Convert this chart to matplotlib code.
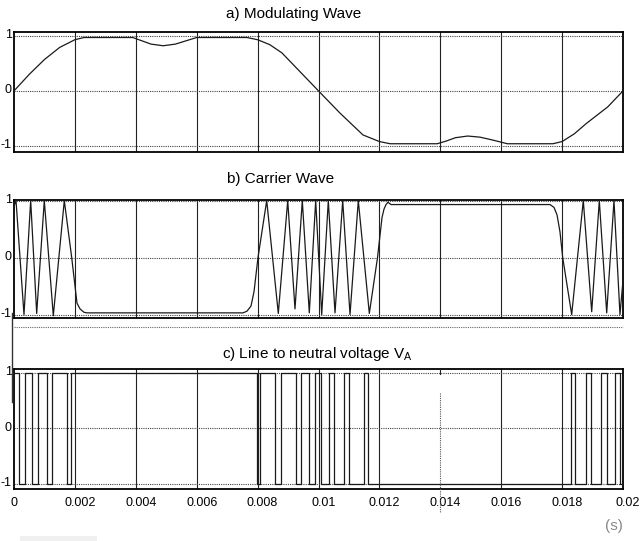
import matplotlib
matplotlib.use('Agg')
import matplotlib.pyplot as plt
from matplotlib.transforms import ScaledTranslation
from matplotlib.lines import Line2D
from matplotlib.patches import Rectangle

plt.rcParams['font.family'] = ['Liberation Sans', 'DejaVu Sans']

#%% waveform data (time in s)
# a) modulating wave
mod_t = [0, 0.0005, 0.001, 0.0015, 0.002, 0.0023, 0.0039, 0.0042, 0.0045, 0.0049,
         0.0053, 0.00565, 0.006, 0.00765, 0.008, 0.0084, 0.0088, 0.0096, 0.01, 0.0107,
         0.01146, 0.012, 0.01235, 0.0139, 0.0142, 0.0145, 0.0149, 0.0153, 0.0157, 0.0162,
         0.0177, 0.018, 0.0184, 0.0188, 0.0195, 0.02]
mod_v = [0, 0.30, 0.57, 0.79, 0.93, 0.97, 0.97, 0.91, 0.85, 0.82,
         0.85, 0.91, 0.97, 0.97, 0.93, 0.84, 0.69, 0.23, 0, -0.40,
         -0.80, -0.92, -0.96, -0.96, -0.91, -0.85, -0.82, -0.84, -0.89, -0.96,
         -0.96, -0.92, -0.78, -0.59, -0.29, 0]

# b) carrier wave (vertices)
car_t = [0, 0.000066, 0.000328, 0.000548, 0.000745, 0.000995, 0.001291, 0.001652, 0.001895,
         0.002069, 0.002167, 0.002299, 0.002397, 0.007521, 0.007652, 0.007783, 0.007882,
         0.008013, 0.008299, 0.00868, 0.008989, 0.009228, 0.009468, 0.009698, 0.009908,
         0.010105, 0.010322, 0.010542, 0.010795, 0.011035, 0.011307, 0.011669, 0.011938,
         0.012085, 0.012151, 0.012217, 0.012282, 0.012381, 0.017603, 0.017734, 0.017833,
         0.017931, 0.01802, 0.018315, 0.018696, 0.018972, 0.019222, 0.019465, 0.019704,
         0.019901, 0.02]
car_v = [0.9, 1.0, -1.0, 1.0, -0.98, 1.0, -1.02, 1.0, 0,
         -0.8, -0.9, -0.96, -0.97, -0.97, -0.94, -0.85, -0.6,
         0, 1.0, -0.98, 1.0, -0.9, 1.0, -0.97, 1.0,
         -1.0, 1.0, -0.97, 1.0, -1.0, 1.0, -0.98, 0,
         0.7, 0.85, 0.93, 0.97, 0.93, 0.93, 0.88, 0.75,
         0.45, 0, -1.0, 1.0, -0.95, 1.0, -0.97, 1.0,
         -1.0, -0.4]

# c) line to neutral voltage (switching instants, level after each)
va_t = [0, 0.00016, 0.00036, 0.00060, 0.00080, 0.00109, 0.00126, 0.00173, 0.00186,
        0.00799, 0.00808, 0.00857, 0.00876, 0.00926, 0.00943, 0.00970, 0.00989,
        0.01008, 0.01034, 0.01052, 0.01085, 0.01101, 0.01150, 0.01162,
        0.01828, 0.01842, 0.01877, 0.01894, 0.01928, 0.01946, 0.01973, 0.01990, 0.02]
va_v = [1, -1, 1, -1, 1, -1, 1, -1, 1,
        -1, 1, -1, 1, -1, 1, -1, 1,
        -1, 1, -1, 1, -1, 1, -1,
        1, -1, 1, -1, 1, -1, 1, -1, -1]

xticks = [0, 0.002, 0.004, 0.006, 0.008, 0.01, 0.012, 0.014, 0.016, 0.018, 0.02]
xtick_labels = ['0', '0.002', '0.004', '0.006', '0.008', '0.01', '0.012', '0.014', '0.016', '0.018', '0.02']

#%% figure
W, H = 640, 541
fig = plt.figure(figsize=(W/100, H/100), dpi=100)

def px_axes(x0, y0, x1, y1):
    return fig.add_axes([x0/W, 1-y1/H, (x1-x0)/W, (y1-y0)/H])

def style(ax, ylim, skip=()):
    ax.set_xlim(0, 0.02)
    ax.set_ylim(*ylim)
    for i, x in enumerate(xticks[1:-1]):
        if i + 1 in skip:
            continue
        ax.axvline(x, color='#222222', lw=0.8, zorder=1)
    for y in (-1, 0, 1):
        ax.axhline(y, color='#444444', lw=0.8, ls=(0, (1, 1)), zorder=1)
    ax.set_yticks([-1, 0, 1])
    ax.set_yticklabels(['-1', '0', '1'])
    ax.set_xticks(xticks)
    ax.set_xticklabels(xtick_labels)
    ax.tick_params(axis='y', length=0, pad=1.5, labelsize=9)
    ax.tick_params(axis='x', length=0, pad=5.5, labelsize=9)
    for lbl in ax.get_yticklabels():
        lbl.set_transform(lbl.get_transform() + ScaledTranslation(0, 2/100, fig.dpi_scale_trans))
    for s in ax.spines.values():
        s.set_linewidth(1.3)
        s.set_color('black')

ax_a = px_axes(14, 32, 623, 152)
ax_b = px_axes(14, 200, 623, 318)
ax_c = px_axes(14, 369, 623, 489)

style(ax_a, (-1.11, 1.07))
style(ax_b, (-1.06, 1.01))
style(ax_c, (-1.09, 1.07), skip=(7,))
ax_a.tick_params(labelbottom=False)
ax_b.tick_params(labelbottom=False)
for lbl in ax_c.get_xticklabels()[1:]:
    lbl.set_transform(lbl.get_transform() + ScaledTranslation(5/100, 0, fig.dpi_scale_trans))

ax_a.plot(mod_t, mod_v, color='#1a1a1a', lw=0.9, zorder=3)
ax_b.plot(car_t, car_v, color='#1a1a1a', lw=0.9, zorder=3)
ax_c.step(va_t, va_v, where='post', color='#1a1a1a', lw=0.9, zorder=3)

# titles
fig.text(226/W, 1-18/H, 'a) Modulating Wave', fontsize=11, va='baseline', ha='left')
fig.text(227/W, 1-183/H, 'b) Carrier Wave', fontsize=11, va='baseline', ha='left')
fig.text(222/W, 1-358/H, 'c) Line to neutral voltage V$_\\mathregular{A}$', fontsize=11, va='baseline', ha='left')
fig.text(623/W, 1-530/H, '(s)', fontsize=11, color='#888888', va='baseline', ha='right')

# extra strokes between the panels
fig.add_artist(Line2D([14/W, 623/W], [1-327/H, 1-327/H], color='#666666', lw=0.8, ls=(0, (1, 1))))
fig.add_artist(Line2D([12/W, 12/W], [1-313/H, 1-402/H], color='#333333', lw=1.0))
fig.add_artist(Line2D([440/W, 440/W], [1-369/H, 1-374/H], color='#222222', lw=0.8))
fig.add_artist(Line2D([440/W, 440/W], [1-393/H, 1-513/H], color='#555555', lw=0.8, ls=(0, (1, 1))))
fig.add_artist(Rectangle((20/W, 1-541/H), 77/W, 5/H, color='#f0f0f0', lw=0))

fig.savefig('out.png', dpi=100)
